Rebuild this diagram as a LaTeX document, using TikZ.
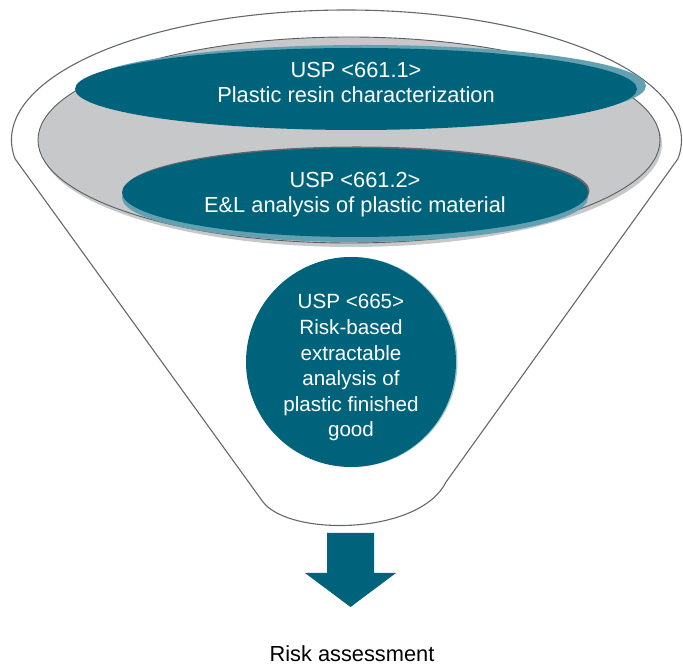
\documentclass[tikz,border=0pt]{standalone}
\usepackage{fontspec}
\setmainfont{Liberation Sans}
\usetikzlibrary{positioning,calc,shapes,shadows}
\definecolor{uspteal}{RGB}{0,99,124}
\definecolor{uspsky}{RGB}{98,160,178}
\definecolor{uspsilver}{RGB}{199,200,201}
\definecolor{uspline}{RGB}{100,104,110}
\begin{document}
\begin{tikzpicture}[x=1pt,y=1pt,
    chapter/.style={ellipse,fill=uspteal,inner sep=0pt},
    txt/.style={text=white,align=center,inner sep=0pt,anchor=base,font=\fontsize{21.8}{25}\selectfont},
    smalltxt/.style={txt,font=\fontsize{20.6}{25.6}\selectfont}]
    \useasboundingbox (0,0) rectangle (683,666);
    \coordinate (rim) at (346.5,526);
    \filldraw[fill=white,draw=uspline,line width=1.1pt]
    (263,164) -- ($(rim)+(188.3:335 and 130)$)
    arc[start angle=188.3,end angle=-8.3,x radius=335,y radius=130]
    -- (446,184) .. controls (420,131) and (290,129) .. (263,164) -- cycle;
    \node[ellipse,fill=uspsilver,draw=uspline!90!black,line width=0.9pt,
      minimum width=622,minimum height=206,inner sep=0pt,
      general shadow={fill=uspsilver,shadow xshift=2pt,shadow yshift=-4pt}] (tray) at (349,526) {};
    \node[chapter,minimum width=562,minimum height=82,
      general shadow={fill=uspsky,shadow xshift=9pt,shadow yshift=3pt}] (usp1) at (356,577) {};
    \node[chapter,minimum width=466,minimum height=89,
      general shadow={fill=uspsky,shadow yshift=-5pt},
      general shadow={fill=uspline,shadow xshift=1.5pt,shadow yshift=1.5pt}] (usp2) at (355,473.5) {};
    \node[circle,fill=uspteal,minimum size=210,inner sep=0pt,
      general shadow={fill=uspsky!60,shadow xshift=1.5pt}] (usp665) at (351,304) {};
    \node[txt] (usp1text) at (356,563) {USP <661.1>\\Plastic resin characterization};
    \node[txt] (usp2text) at (355,453) {USP <661.2>\\E\&L analysis of plastic material};
    \node[smalltxt] (usp665text) at (351,229) {USP <665>\\Risk-based\\extractable\\analysis of\\plastic finished\\good};
    \fill[uspteal] (327,133) -- (374,133) -- (374,93) -- (396,93) -- (350.5,59) -- (305,93) -- (327,93) -- cycle;
    \node[txt,text=black] (risk) at (352,4.5) {Risk assessment};
\end{tikzpicture}
\end{document}
